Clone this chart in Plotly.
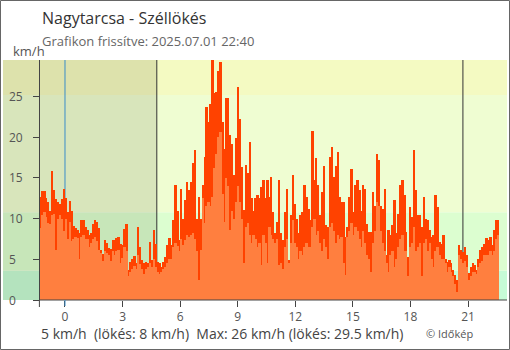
import pandas as pd
import plotly.graph_objects as go

# Wind gust and average wind speed (km/h), one sample every ~6 minutes
gust = [
    12.7, 13.4, 13.4, 12.5, 12.0, 11.0, 15.8, 13.5, 12.4, 12.1, 11.8, 12.4, 13.6, 12.5, 10.8, 12.2, 11.0, 9.1, 8.8, 8.6,
    8.2, 9.8, 9.8, 9.0, 8.6, 8.0, 8.2, 9.3, 9.8, 9.6, 8.8, 6.2, 5.6, 7.4, 7.0, 6.4, 6.3, 7.4,
    7.4, 7.6, 7.7, 6.9, 6.7, 8.7, 9.4, 3.7, 4.7, 5.1, 5.4, 4.5, 9.0, 6.5, 4.9, 4.5, 4.7, 4.5, 7.1, 4.9,
    8.6, 6.9, 4.7, 4.5, 4.1, 4.7, 5.3, 6.7, 7.6, 6.7, 9.8, 14.1, 11.0, 7.4, 13.7, 10.0, 12.3, 14.5, 13.5,
    14.5, 16.9, 18.4, 10.0, 12.6, 10.0, 14.1, 17.6, 23.7, 21.9, 24.1, 29.5, 25.4, 25.6, 28.2, 29.2, 21.9, 18.6, 24.8, 24.8,
    20.3, 19.2, 15.4, 19.9, 26.2, 22.3, 16.4, 11.1, 16.6, 15.6, 19.4, 12.5, 10.9, 12.5, 12.9, 12.5, 13.9, 14.7, 12.5,
    14.8, 12.7, 15.1, 10.8, 8.2, 9.6, 14.8, 8.2, 7.4, 10.8, 13.7, 4.9, 10.4, 15.4, 11.8, 10.0, 8.2, 10.4, 10.8, 14.1,
    12.7, 11.2, 9.8, 20.8, 14.7, 17.4, 14.1, 10.4, 13.3, 16.5, 9.2, 9.0, 17.6, 18.8, 15.1, 16.5, 18.2, 12.7, 12.1,
    12.1, 7.8, 9.0, 12.7, 16.1, 10.8, 14.1, 14.7, 13.5, 11.0, 14.1, 13.7, 9.4, 8.4, 8.4, 13.3, 11.6, 18.0, 17.2, 11.6,
    11.2, 13.7, 5.5, 8.6, 8.0, 9.2, 12.3, 8.2, 10.6, 14.1, 14.8, 12.9, 8.4, 5.3, 11.4, 10.2, 18.4, 13.5, 10.4,
    10.4, 9.0, 12.7, 10.0, 9.8, 8.6, 7.8, 8.0, 12.9, 11.4, 7.1, 6.9, 8.0, 5.1, 4.7, 4.9, 4.5, 3.7, 3.1, 2.5,
    6.7, 6.1, 5.9, 6.5, 5.5, 3.3, 4.1, 4.5, 4.3, 3.7, 5.1, 6.1, 6.5, 6.9, 7.6, 7.4, 7.8, 6.7, 8.6, 9.8, 9.8,
]
speed = [
    8.8, 10.5, 10.8, 10.2, 9.5, 9.3, 10.5, 10.6, 6.2, 10.0, 10.4, 10.0, 8.5, 10.0, 7.5, 9.6, 7.2, 7.5, 7.8, 7.6,
    5.0, 7.8, 8.0, 7.5, 7.5, 6.5, 7.0, 7.5, 7.8, 7.3, 6.2, 5.8, 4.8, 6.0, 5.8, 5.5, 4.8, 6.0,
    5.5, 6.0, 6.1, 4.5, 5.2, 6.5, 6.0, 3.0, 3.5, 3.8, 4.2, 3.8, 5.5, 4.4, 3.8, 3.2, 3.8, 4.0, 4.5, 4.0,
    5.0, 4.0, 3.5, 3.2, 3.4, 3.8, 4.0, 4.5, 5.0, 5.0, 6.5, 7.0, 6.6, 6.0, 7.5, 6.8, 7.4, 8.0, 7.8,
    8.0, 8.2, 7.5, 6.0, 2.5, 6.2, 12.5, 9.5, 11.5, 12.0, 11.5, 12.6, 16.2, 18.0, 20.0, 20.7, 13.0, 9.6, 15.0, 14.0,
    8.6, 11.0, 10.0, 12.0, 14.0, 12.0, 10.0, 4.5, 9.0, 9.5, 8.0, 7.0, 8.0, 7.5, 6.5, 7.0, 4.3, 8.0, 7.0,
    4.5, 9.0, 8.0, 7.5, 7.0, 7.5, 4.3, 4.5, 3.8, 6.5, 7.5, 4.5, 7.0, 9.8, 7.0, 6.5, 5.0, 6.0, 5.5, 6.5,
    7.0, 6.5, 6.5, 9.0, 10.0, 8.0, 8.5, 7.0, 6.0, 7.5, 6.5, 5.0, 9.0, 9.5, 8.5, 7.0, 8.0, 7.5, 7.8,
    4.5, 3.1, 7.8, 8.5, 9.5, 8.0, 9.0, 8.5, 7.5, 6.5, 8.5, 7.0, 5.5, 5.0, 3.5, 7.0, 8.5, 12.0, 11.5, 8.5,
    7.0, 6.0, 4.5, 3.5, 5.5, 6.0, 4.0, 5.0, 6.5, 7.5, 8.0, 6.0, 6.0, 3.0, 6.5, 7.0, 9.0, 6.0, 6.5,
    7.0, 3.0, 7.0, 7.5, 6.0, 7.0, 5.0, 4.0, 6.0, 6.5, 5.5, 5.0, 5.0, 4.5, 3.5, 4.0, 3.5, 3.0, 2.0, 1.0,
    5.5, 5.0, 4.5, 4.8, 4.0, 2.5, 3.0, 3.5, 3.5, 3.2, 4.0, 4.5, 4.8, 5.5, 5.5, 5.5, 6.0, 5.5, 6.0, 7.5, 8.0,
]

# Axis labelling
hour_ticks = [0, 3, 6, 9, 12, 15, 18, 21]
y_ticks = [0, 5, 10, 15, 20, 25]
y_max = 29.5

# Wind-force bands (m/s thresholds expressed in km/h) and their colours
band_edges = [0, 3.6, 10.8, 25.2, y_max]
band_colors = ["#c6fbd6", "#dcfed0", "#effdd2", "#f4fac2"]

# Time frame
period_start = pd.Timestamp("2025-06-30 22:40")
period_end = pd.Timestamp("2025-07-01 22:40")
midnight = pd.Timestamp("2025-07-01 00:00")
sunrise = pd.Timestamp("2025-07-01 04:47")
sunset = pd.Timestamp("2025-07-01 20:44")
view_start = midnight - pd.Timedelta(hours=3.23)
view_end = midnight + pd.Timedelta(hours=23.03)

n = len(gust)
step = (period_end - period_start) / n
times = [period_start + step * (i + 0.5) for i in range(n)]
bar_w = step.total_seconds() * 1000 * 1.25

FONT = "Open Sans"
W, H = 510, 350
ML, MR, MT, MB = 3, 3, 60, 50
pw, ph = W - ML - MR, H - MT - MB

span = (view_end - view_start).total_seconds()
yaxis_pos = (period_start - view_start).total_seconds() / span

fig = go.Figure()
fig.add_trace(go.Bar(x=times, y=gust, width=bar_w, marker=dict(color="#ff4200", line=dict(width=0)),
                     name="Széllökés", hoverinfo="skip"))
fig.add_trace(go.Bar(x=times, y=speed, width=bar_w, marker=dict(color="#ff7f3f", line=dict(width=0)),
                     name="Szélsebesség", hoverinfo="skip"))

shapes = []
# background bands
for lo, hi, col in zip(band_edges[:-1], band_edges[1:], band_colors):
    shapes.append(dict(type="rect", xref="paper", yref="y", x0=0, x1=1, y0=lo, y1=hi,
                       fillcolor=col, line=dict(width=0), layer="below"))
# night shading before sunrise
shapes.append(dict(type="rect", xref="x", yref="paper", x0=view_start, x1=sunrise, y0=0, y1=1,
                   fillcolor="rgba(40,40,0,0.11)", line=dict(width=0), layer="below"))
# midnight, sunrise and sunset markers
shapes.append(dict(type="line", xref="x", yref="paper", x0=midnight, x1=midnight, y0=0, y1=1,
                   line=dict(color="#3a8cc8", width=1), layer="below"))
for t in (sunrise, sunset):
    shapes.append(dict(type="line", xref="x", yref="paper", x0=t, x1=t, y0=0, y1=1,
                       line=dict(color="#333333", width=1), layer="below"))
# x axis base line and small extension of the y axis
shapes.append(dict(type="line", xref="x", yref="paper", x0=period_start, x1=view_end, y0=0, y1=0,
                   line=dict(color="#444444", width=1), layer="above"))
shapes.append(dict(type="line", xref="x", yref="paper", x0=period_start, x1=period_start, y0=0, y1=-7 / ph,
                   line=dict(color="#444444", width=1), layer="above"))
shapes.append(dict(type="line", xref="x", yref="paper", x0=midnight, x1=midnight, y0=0, y1=-6 / ph,
                   line=dict(color="#3a8cc8", width=1), layer="above"))
# frame around the whole chart
shapes.append(dict(type="rect", xref="paper", yref="paper",
                   x0=(0.5 - ML) / pw, x1=(W - 0.5 - ML) / pw,
                   y0=(ph - (H - 0.5 - MT)) / ph, y1=(ph + MT - 0.5) / ph,
                   line=dict(color="#666666", width=1), fillcolor="rgba(0,0,0,0)", layer="above"))

annotations = []
for v in y_ticks:
    annotations.append(dict(text=str(v), xref="paper", yref="y", x=(7 - ML) / pw, y=v,
                            xanchor="left", yanchor="middle", showarrow=False,
                            font=dict(family=FONT, size=12, color="#555555")))

def paper_y(py):
    return (MT + ph - py) / ph

def paper_x(px):
    return (px - ML) / pw

annotations += [
    dict(text="Nagytarcsa - Széllökés", x=paper_x(40), y=paper_y(18), xref="paper", yref="paper",
         xanchor="left", yanchor="middle", showarrow=False, font=dict(family=FONT, size=16, color="#333333")),
    dict(text="Grafikon frissítve: 2025.07.01 22:40", x=paper_x(40), y=paper_y(41), xref="paper", yref="paper",
         xanchor="left", yanchor="middle", showarrow=False, font=dict(family=FONT, size=13, color="#666666")),
    dict(text="km/h", x=paper_x(11), y=paper_y(51), xref="paper", yref="paper",
         xanchor="left", yanchor="middle", showarrow=False, font=dict(family=FONT, size=13, color="#555555")),
    dict(text="5 km/h\u00a0 (lökés: 8 km/h)\u00a0 Max: 26 km/h (lökés: 29.5 km/h)", x=paper_x(39), y=paper_y(333),
         xref="paper", yref="paper", xanchor="left", yanchor="middle", showarrow=False,
         font=dict(family=FONT, size=14, color="#444444")),
    dict(text="© Időkép", x=paper_x(424), y=paper_y(333), xref="paper", yref="paper",
         xanchor="left", yanchor="middle", showarrow=False, font=dict(family=FONT, size=11, color="#555555")),
]

fig.update_layout(
    width=W, height=H, margin=dict(l=ML, r=MR, t=MT, b=MB),
    paper_bgcolor="white", plot_bgcolor="white",
    barmode="overlay", bargap=0, showlegend=False,
    shapes=shapes, annotations=annotations,
    font=dict(family=FONT, size=12, color="#555555"),
    xaxis=dict(type="date", range=[view_start, view_end], domain=[0, 1],
               tickvals=[midnight + pd.Timedelta(hours=h) for h in hour_ticks],
               ticktext=[str(h) for h in hour_ticks],
               ticks="outside", ticklen=6, tickcolor="#444444", showgrid=False, zeroline=False,
               showline=False, tickfont=dict(family=FONT, size=12, color="#555555")),
    yaxis=dict(range=[0, y_max], anchor="free", position=yaxis_pos, side="left",
               tickvals=y_ticks, ticks="outside", ticklen=6, tickcolor="#444444",
               showticklabels=False, showgrid=False, zeroline=False,
               showline=True, linecolor="#444444", linewidth=1),
    yaxis2=dict(range=[0, y_max], overlaying="y", anchor="free", position=yaxis_pos, side="left",
                tickvals=y_ticks, ticks="inside", ticklen=7, tickcolor="#444444",
                showticklabels=False, showgrid=False, zeroline=False, showline=False),
)

fig.write_html("out.html")
